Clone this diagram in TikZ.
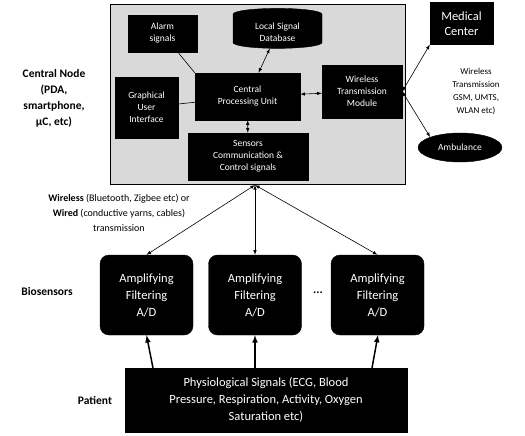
\documentclass[tikz,border=0pt]{standalone}
\usepackage{fontspec}
\setmainfont{Carlito}
\usetikzlibrary{shapes.geometric,arrows.meta}
\tikzset{
  blk/.style={draw=black,fill=black,text=white,align=center,font=\fontsize{9.5}{12}\selectfont,inner sep=1pt},
  bio/.style={blk,rounded corners=9pt,minimum width=93pt,minimum height=80pt,font=\fontsize{12.5}{17}\selectfont},
  side/.style={align=center,font=\bfseries\fontsize{11.5}{16}\selectfont},
  lnk/.style={line width=.6pt},
}
\begin{document}
\begin{tikzpicture}[>=latex, x=1pt, y=-1pt]
\useasboundingbox (0,0) rectangle (525,436);
% central node
\draw[fill=gray!30] (110,4) rectangle (405,184);
\node[side] (cn) at (54,98) {Central Node\\(PDA,\\smartphone,\\µC, etc)};
\node[blk,minimum width=69pt,minimum height=37pt] (alarm) at (162.5,33.5) {Alarm\\signals};
\node[blk,cylinder,shape border rotate=90,aspect=.25,minimum width=89pt,minimum height=40pt] (db) at (277.5,32) {Local Signal\\Database};
\node[blk,minimum width=63pt,minimum height=61pt] (gui) at (146.5,107.5) {Graphical\\User\\Interface};
\node[blk,minimum width=105pt,minimum height=47pt] (cpu) at (247.5,96.5) {Central\\Processing Unit};
\node[blk,minimum width=80pt,minimum height=53pt] (wtm) at (362,91.5) {Wireless\\Transmission\\Module};
\node[blk,minimum width=120pt,minimum height=47pt] (scb) at (248,156.5) {Sensors\\Communication \&\\Control signals};
\draw[lnk] (alarm) -- (cpu.north west);
\draw[lnk,<->] (db) -- (cpu);
\draw[lnk] (gui) -- (cpu);
\draw[lnk,<->] (cpu) -- (wtm);
\draw[lnk,<->] (cpu) -- (scb);
% outside
\node[blk,minimum width=63pt,minimum height=42pt,font=\fontsize{12.5}{15}\selectfont] (med) at (461.5,23.5) {Medical\\Center};
\node[blk,ellipse,minimum width=84pt,minimum height=29pt] (amb) at (460,147.5) {Ambulance};
\node[align=center,font=\fontsize{9}{13}\selectfont] (wt) at (476,91) {Wireless\\Transmission\\GSM, UMTS,\\WLAN etc)};
\draw[lnk,<->] (wtm.east) -- (med.south west);
\draw[lnk,<->] (wtm.east) -- (amb.north west);
% biosensors
\coordinate (hub) at (255,185);
\node[bio] (bio1) at (146.5,295) {Amplifying\\Filtering\\A/D};
\node[bio] (bio2) at (255,295) {Amplifying\\Filtering\\A/D};
\node[bio] (bio3) at (377.5,295) {Amplifying\\Filtering\\A/D};
\node[font=\bfseries\fontsize{12}{12}\selectfont] (dots) at (318,293) {...};
\node[side] (bs) at (47,292) {Biosensors};
\node[align=center,font=\fontsize{10}{15}\selectfont] (tx) at (119,213) {\textbf{Wireless} (Bluetooth, Zigbee etc) or\\\textbf{Wired} (conductive yarns, cables)\\transmission};
\foreach \b in {bio1,bio2,bio3}
  \draw[lnk,<->] (hub) -- (\b.north);
% patient
\node[blk,minimum width=282pt,minimum height=64pt,font=\fontsize{12.5}{17}\selectfont] (pat) at (266,400) {Physiological Signals (ECG, Blood\\Pressure, Respiration, Activity, Oxygen\\Saturation etc)};
\node[side] (pl) at (95,400) {Patient};
\draw[line width=1.5pt,->] (153,368) -- (bio1.south);
\draw[line width=1.5pt,->] (pat.north -| bio2) -- (bio2.south);
\draw[line width=1.5pt,->] (372,368) -- (378,335);
\end{tikzpicture}
\end{document}
